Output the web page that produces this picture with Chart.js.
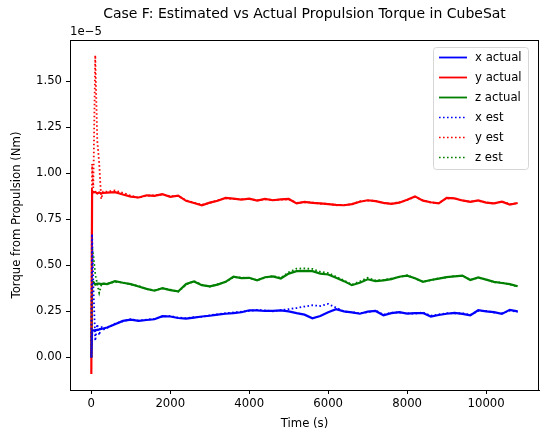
<!DOCTYPE html>
<html lang="en">
<head>
<meta charset="UTF-8" />
<title>Case F Propulsion Torque</title>
<script src="https://cdn.jsdelivr.net/npm/chart.js"></script>
<style>
  html, body { margin: 0; padding: 0; background: #fff; }
  #wrap { width: 540px; height: 434px; }
</style>
</head>
<body>
<div id="wrap"><canvas id="torqueChart" width="540" height="434"></canvas></div>
<script>
  // time stamps (s), torque values in units of 1e-5 Nm
  const times = [0, 20, 50, 100, 150, 200, 250, 300,
    400, 600, 800, 1000, 1200, 1400, 1600, 1800, 2000, 2200, 2400, 2600, 2800, 3000,
    3200, 3400, 3600, 3800, 4000, 4200, 4400, 4600, 4800, 5000, 5200, 5400, 5600, 5800,
    6000, 6200, 6400, 6600, 6800, 7000, 7200, 7400, 7600, 7800, 8000, 8200, 8400, 8600,
    8800, 9000, 9200, 9400, 9600, 9800, 10000, 10200, 10400, 10600, 10800];

  const xActual = [0.0, 0.145, 0.147, 0.148, 0.150, 0.152, 0.155, 0.157,
    0.162, 0.180, 0.198, 0.205, 0.198, 0.203, 0.207, 0.224, 0.222, 0.214, 0.210, 0.216, 0.222, 0.226,
    0.232, 0.237, 0.240, 0.245, 0.256, 0.255, 0.252, 0.253, 0.255, 0.250, 0.240, 0.232, 0.212, 0.225,
    0.245, 0.262, 0.250, 0.244, 0.237, 0.248, 0.252, 0.229, 0.240, 0.246, 0.238, 0.240, 0.241, 0.222,
    0.230, 0.237, 0.242, 0.236, 0.228, 0.256, 0.250, 0.246, 0.236, 0.258, 0.250];
  const yActual = [-0.09, 0.905, 0.895, 0.898, 0.890, 0.895, 0.890, 0.893,
    0.894, 0.897, 0.884, 0.873, 0.868, 0.880, 0.877, 0.886, 0.872, 0.878, 0.850, 0.838, 0.826, 0.840,
    0.850, 0.866, 0.862, 0.857, 0.862, 0.851, 0.860, 0.853, 0.858, 0.860, 0.836, 0.844, 0.839, 0.836,
    0.832, 0.828, 0.826, 0.832, 0.845, 0.853, 0.848, 0.839, 0.833, 0.840, 0.856, 0.874, 0.851, 0.842,
    0.836, 0.866, 0.863, 0.852, 0.844, 0.852, 0.840, 0.836, 0.845, 0.830, 0.838];
  const zActual = [0.0, 0.410, 0.410, 0.395, 0.400, 0.400, 0.398, 0.400,
    0.398, 0.414, 0.405, 0.398, 0.385, 0.372, 0.362, 0.376, 0.365, 0.358, 0.398, 0.412, 0.392, 0.386,
    0.395, 0.410, 0.438, 0.430, 0.432, 0.418, 0.435, 0.440, 0.428, 0.455, 0.468, 0.470, 0.468, 0.455,
    0.450, 0.432, 0.414, 0.392, 0.405, 0.424, 0.414, 0.418, 0.425, 0.438, 0.444, 0.430, 0.410, 0.420,
    0.428, 0.436, 0.440, 0.444, 0.420, 0.434, 0.422, 0.410, 0.404, 0.398, 0.386];

  const xEst = [0.0, 0.67, 0.40, 0.09, 0.18, 0.12, 0.17, 0.15,
    0.160, 0.183, 0.196, 0.207, 0.200, 0.205, 0.209, 0.222, 0.225, 0.216, 0.213, 0.218, 0.220, 0.229,
    0.234, 0.240, 0.244, 0.248, 0.252, 0.258, 0.255, 0.250, 0.257, 0.262, 0.268, 0.276, 0.283, 0.279,
    0.290, 0.270, 0.248, 0.246, 0.240, 0.245, 0.255, 0.232, 0.243, 0.244, 0.240, 0.237, 0.244, 0.226,
    0.233, 0.240, 0.239, 0.240, 0.231, 0.252, 0.253, 0.243, 0.240, 0.254, 0.247];
  const yEst = [0.0, 1.05, 0.92, 1.64, 1.18, 1.05, 0.86, 0.90,
    0.900, 0.906, 0.893, 0.878, 0.866, 0.878, 0.880, 0.884, 0.875, 0.876, 0.853, 0.840, 0.829, 0.838,
    0.853, 0.864, 0.860, 0.859, 0.860, 0.853, 0.858, 0.855, 0.856, 0.858, 0.839, 0.842, 0.841, 0.834,
    0.834, 0.826, 0.828, 0.830, 0.847, 0.851, 0.850, 0.837, 0.835, 0.842, 0.854, 0.871, 0.853, 0.840,
    0.838, 0.863, 0.865, 0.850, 0.846, 0.850, 0.842, 0.834, 0.847, 0.832, 0.836];
  const zEst = [0.0, 0.60, 0.56, 0.45, 0.40, 0.35, 0.39, 0.40,
    0.400, 0.410, 0.407, 0.396, 0.388, 0.370, 0.365, 0.374, 0.368, 0.356, 0.395, 0.414, 0.395, 0.384,
    0.398, 0.408, 0.436, 0.433, 0.430, 0.420, 0.432, 0.442, 0.432, 0.462, 0.482, 0.483, 0.480, 0.465,
    0.458, 0.438, 0.418, 0.395, 0.412, 0.432, 0.418, 0.420, 0.428, 0.436, 0.446, 0.428, 0.412, 0.418,
    0.430, 0.434, 0.442, 0.442, 0.422, 0.432, 0.424, 0.408, 0.406, 0.396, 0.384];

  const xTicks = [0, 2000, 4000, 6000, 8000, 10000];
  const yTicks = [0, 0.25, 0.5, 0.75, 1.0, 1.25, 1.5];

  const FONT = 'DejaVu Sans';
  const toPoints = vals => vals.map((v, i) => ({ x: times[i], y: v }));

  function series(label, vals, color, dotted) {
    return {
      label,
      data: toPoints(vals),
      borderColor: color,
      backgroundColor: color,
      borderWidth: dotted ? 1.8 : 2.2,
      borderDash: dotted ? [1.6, 2.4] : [],
      pointRadius: 0,
      tension: 0,
      fill: false,
      order: dotted ? 0 : 1
    };
  }

  // spines, title, offset text, axis labels and the boxed legend
  const decorations = {
    id: 'decorations',
    afterDraw(chart) {
      const { ctx, chartArea: a } = chart;
      ctx.save();
      ctx.strokeStyle = '#000';
      ctx.lineWidth = 1;
      ctx.setLineDash([]);
      ctx.strokeRect(Math.round(a.left) + 0.5, Math.round(a.top) + 0.5,
        Math.round(a.right - a.left) - 1, Math.round(a.bottom - a.top));

      ctx.fillStyle = '#000';
      ctx.font = '14px "' + FONT + '"';
      ctx.textAlign = 'center';
      ctx.textBaseline = 'alphabetic';
      ctx.fillText('Case F: Estimated vs Actual Propulsion Torque in CubeSat', (a.left + a.right) / 2, 18);

      ctx.font = '11.7px "' + FONT + '"';
      ctx.textAlign = 'left';
      ctx.fillText('1e\u22125', a.left, 35);

      ctx.textAlign = 'center';
      ctx.fillText('Time (s)', (a.left + a.right) / 2, 427);

      ctx.save();
      ctx.translate(20, (a.top + a.bottom) / 2);
      ctx.rotate(-Math.PI / 2);
      ctx.fillText('Torque from Propulsion (Nm)', 0, 0);
      ctx.restore();

      // legend
      const bx = 433, by = 47, bw = 95, bh = 122;
      ctx.beginPath();
      ctx.roundRect(bx + 0.5, by + 0.5, bw, bh, 3);
      ctx.fillStyle = 'rgba(255,255,255,0.8)';
      ctx.fill();
      ctx.strokeStyle = '#d6d6d6';
      ctx.lineWidth = 1;
      ctx.stroke();

      ctx.textAlign = 'left';
      ctx.textBaseline = 'middle';
      chart.data.datasets.forEach((ds, i) => {
        const y = by + 10.5 + i * 20;
        ctx.beginPath();
        ctx.strokeStyle = ds.borderColor;
        ctx.lineWidth = ds.borderDash.length ? 1.6 : 1.8;
        ctx.setLineDash(ds.borderDash);
        ctx.moveTo(bx + 6, y);
        ctx.lineTo(bx + 34, y);
        ctx.stroke();
        ctx.setLineDash([]);
        ctx.fillStyle = '#000';
        ctx.fillText(ds.label, bx + 42, y);
      });
      ctx.restore();
    }
  };

  Chart.defaults.font.family = FONT;
  Chart.defaults.font.size = 11.7;
  Chart.defaults.color = '#000';

  new Chart(document.getElementById('torqueChart'), {
    type: 'line',
    data: {
      datasets: [
        series('x actual', xActual, '#0000ff', false),
        series('y actual', yActual, '#ff0000', false),
        series('z actual', zActual, '#008000', false),
        series('x est', xEst, '#0000ff', true),
        series('y est', yEst, '#ff0000', true),
        series('z est', zEst, '#008000', true)
      ]
    },
    options: {
      responsive: false,
      devicePixelRatio: 1,
      animation: false,
      layout: { padding: { top: 40, right: 1, left: 0, bottom: 0 } },
      plugins: { legend: { display: false }, tooltip: { enabled: false } },
      scales: {
        x: {
          type: 'linear',
          min: -540,
          max: 11340,
          afterBuildTicks: s => { s.ticks = xTicks.map(v => ({ value: v })); },
          afterFit: s => { s.height = 44; },
          ticks: { maxRotation: 0, autoSkip: false, padding: 3, color: '#000', callback: v => String(v) },
          grid: { drawOnChartArea: false, drawTicks: true, tickLength: 4, color: '#000' },
          border: { display: true, color: '#000' }
        },
        y: {
          type: 'linear',
          min: -0.177,
          max: 1.723,
          afterBuildTicks: s => { s.ticks = yTicks.map(v => ({ value: v })); },
          afterFit: s => { s.width = 70; },
          ticks: { padding: 4, color: '#000', callback: v => v.toFixed(2) },
          grid: { drawOnChartArea: false, drawTicks: true, tickLength: 4, color: '#000' },
          border: { display: true, color: '#000' }
        }
      }
    },
    plugins: [decorations]
  });
</script>
</body>
</html>
